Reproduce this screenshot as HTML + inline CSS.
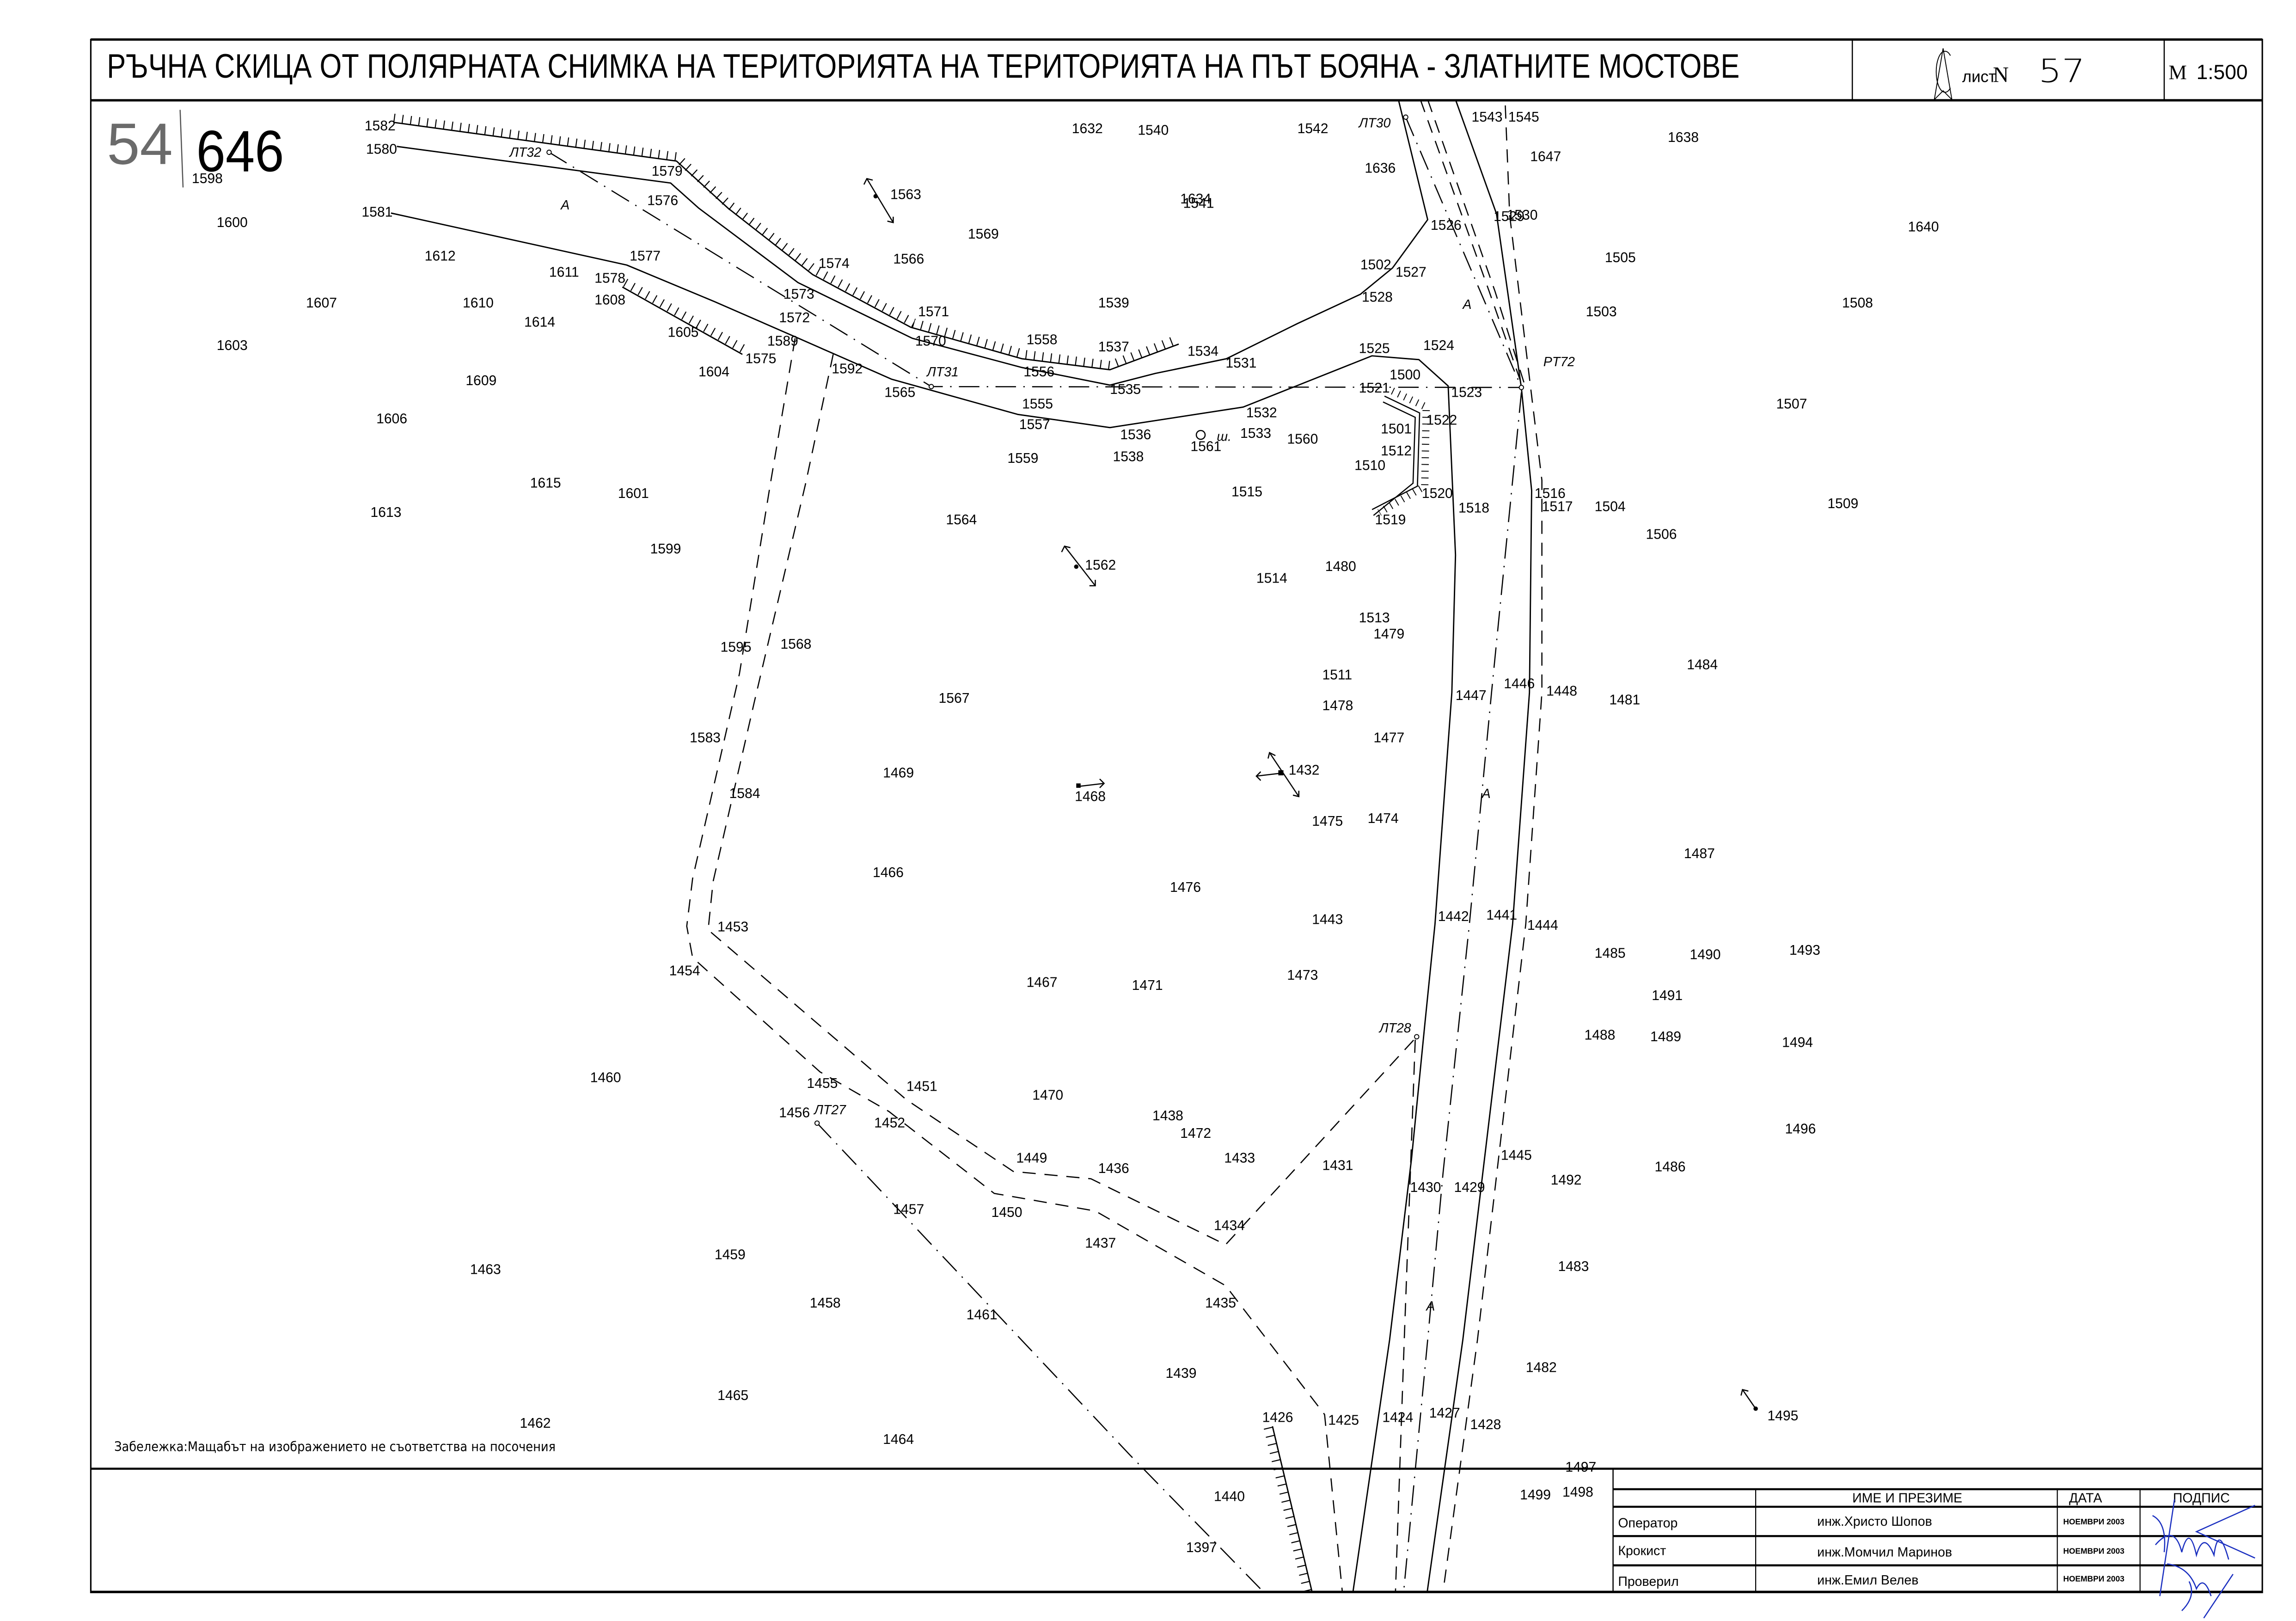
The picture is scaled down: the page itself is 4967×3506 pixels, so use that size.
<!DOCTYPE html>
<html><head><meta charset="utf-8">
<style>
html,body{margin:0;padding:0;background:#fff;}
svg{display:block;}
text{font-family:"Liberation Sans Narrow","Liberation Sans","DejaVu Sans Condensed",sans-serif;fill:#000;}
.l{font-size:9.5px;}
.it{font-family:"Liberation Serif",serif;font-style:italic;font-size:9px;}
</style></head>
<body>
<svg width="4967" height="3506" viewBox="0 0 1568 1107" preserveAspectRatio="none" xmlns="http://www.w3.org/2000/svg">
<rect width="1568" height="1107" fill="#fff"/>
<!-- frame -->
<g fill="none" stroke="#000">
<rect x="62" y="27" width="1483" height="1060.5" stroke-width="1"/>
<line x1="62" y1="27" x2="1545" y2="27" stroke-width="1.6"/>
<line x1="62" y1="68.5" x2="1545" y2="68.5" stroke-width="1.6"/>
<line x1="1265" y1="27" x2="1265" y2="68.5" stroke-width="0.8"/>
<line x1="1478" y1="27" x2="1478" y2="68.5" stroke-width="0.8"/>
<line x1="62" y1="1003" x2="1545" y2="1003" stroke-width="1.4"/>
<line x1="62" y1="1087" x2="1545" y2="1087" stroke-width="1.4"/>
<!-- table -->
<line x1="1101.6" y1="1003" x2="1101.6" y2="1087" stroke-width="0.8"/>
<line x1="1101.6" y1="1017" x2="1545" y2="1017" stroke-width="1.4"/>
<line x1="1101.6" y1="1029" x2="1545" y2="1029" stroke-width="1.4"/>
<line x1="1101.6" y1="1049" x2="1545" y2="1049" stroke-width="1.4"/>
<line x1="1101.6" y1="1069" x2="1545" y2="1069" stroke-width="1.4"/>
<line x1="1199" y1="1017" x2="1199" y2="1087" stroke-width="0.7"/>
<line x1="1405" y1="1017" x2="1405" y2="1087" stroke-width="0.7"/>
<line x1="1461.5" y1="1017" x2="1461.5" y2="1087" stroke-width="0.7"/>
</g>
<!-- header texts -->
<text x="73" y="53" font-size="23" textLength="1115" lengthAdjust="spacingAndGlyphs" style="font-family:'Liberation Sans Narrow','Liberation Sans',sans-serif">РЪЧНА СКИЦА ОТ ПОЛЯРНАТА СНИМКА НА ТЕРИТОРИЯТА НА ТЕРИТОРИЯТА НА ПЪТ БОЯНА - ЗЛАТНИТЕ МОСТОВЕ</text>
<g fill="none" stroke="#000" stroke-width="0.6">
<path d="M1332,38 A6,14 0 1 0 1332,60"/>
<path d="M1327,33 L1321,68 M1327,33 L1333,68 M1321,68 L1327,62 L1333,68"/>
</g>
<text x="1340" y="56" font-size="11">лист</text>
<text x="1361" y="56" font-size="15" style="font-family:'Liberation Serif',serif">N</text>
<text x="1392" y="56" font-size="22" style="font-family:'DejaVu Sans',sans-serif;font-weight:200" textLength="32" lengthAdjust="spacingAndGlyphs">57</text>
<text x="1481" y="54" font-size="14" style="font-family:'Liberation Serif',serif">M</text>
<text x="1500" y="54" font-size="14" style="font-family:'Liberation Sans',sans-serif">1:500</text>

<!-- handwritten -->
<text x="73" y="112" font-size="40" fill="#777" style="font-family:'Liberation Sans Narrow',sans-serif;fill:#6b6b6b" textLength="45" lengthAdjust="spacingAndGlyphs">54</text>
<line x1="123" y1="75" x2="125" y2="128" stroke="#555" stroke-width="0.8"/>
<text x="134" y="117" font-size="40" style="font-family:'Liberation Sans Narrow',sans-serif;font-weight:100" textLength="60" lengthAdjust="spacingAndGlyphs">646</text>

<!-- ROADS -->
<g fill="none" stroke="#000" stroke-width="0.9" stroke-linejoin="round">
<polyline points="269,83.6 462,110 497,142 555,187.5 622,223.5 698,245 758,252.5 805,235"/>
<polyline points="271,100 458,125 477,142 545,193 623,231 698,251 758,263 789,255 837.5,245 886,221 929,201 951,183 975,150 955,68"/>
<polyline points="267,145.5 428,181 488,206 543,230 609,259 695,283 758,292 849,278 937,243 969,245.6 989,263.6 994,379 991.5,473 980,631 973,700 964,791 949,915 924,1087"/>
<polyline points="425,196 507,242"/>
<polyline points="994,68 1022,146 1039,265 1046,335 1044.5,473 1033,631 999,915 974.7,1087"/>
<polyline points="869,974 896,1087"/>
</g>
<!-- hachures -->
<g fill="none" stroke="#000" stroke-width="6" stroke-dasharray="0.7 5">
<polyline points="269,80.6 462,107 497,139 557,184.5 624,220.5 700,242 758,249.5 803,232"/>
<polyline points="427,193 509,239"/>
<polyline points="866,975 893,1087"/>
</g>
<!-- hachured structure 1522/1520 -->
<g fill="none" stroke="#000" stroke-width="0.8">
<polyline points="945.5,270.5 969.5,282 968,332 937,348"/>
<polyline points="944.5,274.5 966.5,285 965,330 938,352"/>
<polyline points="949,269 972,280 971,334 940,352" stroke-width="5" stroke-dasharray="0.6 4" transform="translate(2,-2)"/>
</g>
<circle cx="820" cy="297" r="3" fill="none" stroke="#000" stroke-width="0.8"/>

<!-- dash-dot axes -->
<g fill="none" stroke="#000" stroke-width="0.8" stroke-dasharray="14 5 1 5">
<polyline points="375,104 636,264 1039,264.6"/>
<polyline points="960,80 1039,264.6"/>
<polyline points="1039,268 1018.6,473 1003.5,631 985.5,801 975,915 958.6,1087"/>
<polyline points="558,767 772,994 862.7,1087"/>
</g>
<!-- dashed lines -->
<g fill="none" stroke="#000" stroke-width="0.8" stroke-dasharray="9 6">
<polyline points="543,231 526,331 505,460 473,600 469,632.5 473,654 560,732 607,759 679,815 748,827 837,878 904.6,966 916.7,1087"/>
<polyline points="569,242 550,331 515,480 487,602 483.6,635 619,751 692,800 745,805 837,850 967.5,708"/>
<polyline points="966.5,710 959,915 953,1087"/>
<polyline points="1028,72 1031,147 1053,328 1053,473 1042,631 1009,915 985.5,1087"/>
<polyline points="970,68 1017,199 1039,262"/>
<polyline points="975,68 1021,199 1041,262"/>
</g>
<g fill="#fff" stroke="#000" stroke-width="0.6">
<circle cx="375" cy="104" r="1.5"/><circle cx="636" cy="264" r="1.5"/><circle cx="1039" cy="264.6" r="1.5"/>
<circle cx="960" cy="80" r="1.5"/><circle cx="967.5" cy="708" r="1.5"/><circle cx="558" cy="767" r="1.5"/>
</g>
<!-- arrows -->
<g fill="none" stroke="#000" stroke-width="0.8">
<line x1="592" y1="122" x2="610" y2="152"/><path d="M590,126 L592,122 L596,123 M606,151 L610,152 L610,148"/>
<line x1="727" y1="373" x2="748" y2="400"/><path d="M725,377 L727,373 L731,374 M744,400 L748,400 L748,396"/>
<line x1="858" y1="530" x2="875" y2="528"/><path d="M861,527 L858,530 L861,533"/>
<line x1="867" y1="514" x2="887" y2="544"/><path d="M866,518 L867,514 L871,516 M883,543 L887,544 L887,540"/>
<line x1="737" y1="537" x2="754" y2="535"/><path d="M751,532 L754,535 L751,538"/>
<line x1="1190" y1="949" x2="1199" y2="962"/><path d="M1189,953 L1190,949 L1194,950"/>
</g>
<rect x="735" y="535" width="3" height="3"/><rect x="873" y="526" width="3.5" height="3.5"/><circle cx="598" cy="134" r="1.5"/><circle cx="735" cy="387" r="1.5"/><circle cx="1199" cy="962" r="1.5"/>

<!-- labels -->
<g class="l">
<text x="249" y="89">1582</text><text x="250" y="105">1580</text><text x="131" y="125">1598</text><text x="148" y="155">1600</text>
<text x="247" y="148">1581</text><text x="290" y="178">1612</text><text x="375" y="189">1611</text><text x="406" y="193">1578</text>
<text x="406" y="208">1608</text><text x="430" y="178">1577</text><text x="209" y="210">1607</text><text x="316" y="210">1610</text>
<text x="358" y="223">1614</text><text x="148" y="239">1603</text><text x="318" y="263">1609</text><text x="456" y="230">1605</text>
<text x="477" y="257">1604</text><text x="509" y="248">1575</text><text x="524" y="236">1589</text><text x="532" y="220">1572</text>
<text x="535" y="204">1573</text><text x="559" y="183">1574</text><text x="442" y="140">1576</text><text x="445" y="120">1579</text>
<text x="610" y="180">1566</text><text x="608" y="136">1563</text><text x="661" y="163">1569</text><text x="627" y="216">1571</text>
<text x="625" y="236">1570</text><text x="701" y="235">1558</text><text x="750" y="240">1537</text><text x="811" y="243">1534</text>
<text x="837" y="251">1531</text><text x="750" y="210">1539</text><text x="732" y="91">1632</text><text x="777" y="92">1540</text>
<text x="886" y="91">1542</text><text x="806" y="139">1634</text><text x="808" y="142">1541</text><text x="932" y="118">1636</text>
<text x="1005" y="83">1543</text><text x="1030" y="83">1545</text><text x="1045" y="110">1647</text><text x="1139" y="97">1638</text>
<text x="1303" y="158">1640</text><text x="977" y="157">1526</text><text x="1020" y="151">1529</text><text x="1029" y="150">1530</text>
<text x="929" y="184">1502</text><text x="953" y="189">1527</text><text x="930" y="206">1528</text><text x="1096" y="179">1505</text>
<text x="1083" y="216">1503</text><text x="1258" y="210">1508</text><text x="928" y="241">1525</text><text x="972" y="239">1524</text>
<text x="949" y="259">1500</text><text x="928" y="268">1521</text><text x="991" y="271">1523</text><text x="568" y="255">1592</text>
<text x="604" y="271">1565</text><text x="698" y="279">1555</text><text x="699" y="257">1556</text><text x="758" y="269">1535</text>
<text x="696" y="293">1557</text><text x="851" y="285">1532</text><text x="847" y="299">1533</text><text x="765" y="300">1536</text>
<text x="813" y="308">1561</text><text x="879" y="303">1560</text><text x="943" y="296">1501</text><text x="974" y="290">1522</text>
<text x="943" y="311">1512</text><text x="925" y="321">1510</text><text x="688" y="316">1559</text><text x="760" y="315">1538</text>
<text x="841" y="339">1515</text><text x="971" y="340">1520</text><text x="939" y="358">1519</text><text x="996" y="350">1518</text>
<text x="1048" y="340">1516</text><text x="1053" y="349">1517</text><text x="1089" y="349">1504</text><text x="1124" y="368">1506</text>
<text x="1248" y="347">1509</text><text x="1213" y="279">1507</text><text x="257" y="289">1606</text><text x="362" y="333">1615</text>
<text x="422" y="340">1601</text><text x="253" y="353">1613</text><text x="444" y="378">1599</text><text x="646" y="358">1564</text>
<text x="741" y="389">1562</text><text x="858" y="398">1514</text><text x="905" y="390">1480</text><text x="928" y="425">1513</text>
<text x="938" y="436">1479</text><text x="492" y="445">1595</text><text x="533" y="443">1568</text><text x="1152" y="457">1484</text>
<text x="903" y="464">1511</text><text x="903" y="485">1478</text><text x="994" y="478">1447</text><text x="1027" y="470">1446</text>
<text x="1056" y="475">1448</text><text x="1099" y="481">1481</text><text x="641" y="480">1567</text><text x="938" y="507">1477</text>
<text x="471" y="507">1583</text><text x="603" y="531">1469</text><text x="880" y="529">1432</text><text x="734" y="547">1468</text>
<text x="498" y="545">1584</text><text x="896" y="564">1475</text><text x="934" y="562">1474</text>
<text x="1150" y="586">1487</text><text x="596" y="599">1466</text><text x="799" y="609">1476</text><text x="896" y="631">1443</text>
<text x="982" y="629">1442</text><text x="1015" y="628">1441</text><text x="1043" y="635">1444</text><text x="490" y="636">1453</text>
<text x="1089" y="654">1485</text><text x="1154" y="655">1490</text><text x="1222" y="652">1493</text><text x="457" y="666">1454</text>
<text x="701" y="674">1467</text><text x="773" y="676">1471</text><text x="879" y="669">1473</text><text x="1128" y="683">1491</text>
<text x="1082" y="710">1488</text><text x="1127" y="711">1489</text><text x="1217" y="715">1494</text><text x="403" y="739">1460</text>
<text x="551" y="743">1455</text><text x="619" y="745">1451</text><text x="705" y="751">1470</text><text x="532" y="763">1456</text>
<text x="597" y="770">1452</text><text x="787" y="765">1438</text><text x="806" y="777">1472</text><text x="1219" y="774">1496</text>
<text x="694" y="794">1449</text><text x="750" y="801">1436</text><text x="836" y="794">1433</text><text x="903" y="799">1431</text>
<text x="1025" y="792">1445</text><text x="1130" y="800">1486</text><text x="1059" y="809">1492</text><text x="963" y="814">1430</text>
<text x="993" y="814">1429</text><text x="610" y="829">1457</text><text x="677" y="831">1450</text><text x="829" y="840">1434</text>
<text x="741" y="852">1437</text><text x="488" y="860">1459</text><text x="321" y="870">1463</text><text x="1064" y="868">1483</text>
<text x="553" y="893">1458</text><text x="823" y="893">1435</text><text x="660" y="901">1461</text><text x="796" y="941">1439</text>
<text x="1042" y="937">1482</text><text x="490" y="956">1465</text><text x="1207" y="970">1495</text><text x="862" y="971">1426</text>
<text x="907" y="973">1425</text><text x="944" y="971">1424</text><text x="976" y="968">1427</text><text x="1004" y="976">1428</text>
<text x="355" y="975">1462</text><text x="603" y="986">1464</text><text x="1069" y="1005">1497</text><text x="1067" y="1022">1498</text>
<text x="1038" y="1024">1499</text><text x="829" y="1025">1440</text><text x="810" y="1060">1397</text>
</g>
<g class="it">
<text x="348" y="107">ЛТ32</text><text x="383" y="143">А</text><text x="633" y="257">ЛТ31</text><text x="928" y="87">ЛТ30</text>
<text x="999" y="211">А</text><text x="1054" y="250">PT72</text><text x="831" y="301">ш.</text><text x="1012" y="545">А</text>
<text x="942" y="705">ЛТ28</text><text x="556" y="761">ЛТ27</text><text x="974" y="895">А</text>
</g>
<text x="78" y="991" font-size="9" style="font-family:'DejaVu Sans Condensed','Liberation Sans Narrow',sans-serif">Забележка:Мащабът на изображението не съответства на посочения</text>

<!-- table text -->
<g font-size="9">
<text x="1265" y="1026">ИМЕ И ПРЕЗИМЕ</text><text x="1413" y="1026">ДАТА</text><text x="1484" y="1026">ПОДПИС</text>
<text x="1105" y="1043">Оператор</text><text x="1241" y="1042">инж.Христо Шопов</text>
<text x="1105" y="1062">Крокист</text><text x="1241" y="1063">инж.Момчил Маринов</text>
<text x="1105" y="1083">Проверил</text><text x="1241" y="1082">инж.Емил Велев</text>
</g>
<g font-size="5.5" font-weight="bold">
<text x="1409" y="1041">НОЕМВРИ 2003</text><text x="1409" y="1061">НОЕМВРИ 2003</text><text x="1409" y="1080">НОЕМВРИ 2003</text>
</g>
<!-- signature -->
<g fill="none" stroke="#1a2fc0" stroke-width="0.8">
<path d="M1485,1024 L1475,1090 M1540,1028 L1500,1046 L1540,1064 M1470,1035 Q1480,1040 1478,1060 M1472,1055 Q1485,1040 1490,1060 Q1495,1040 1500,1062 Q1505,1045 1512,1062 Q1515,1040 1522,1065 M1480,1068 Q1495,1070 1500,1085 Q1505,1075 1510,1090 M1525,1075 L1505,1105 M1490,1100 Q1500,1090 1495,1080"/>
</g>
</svg>
</body></html>
